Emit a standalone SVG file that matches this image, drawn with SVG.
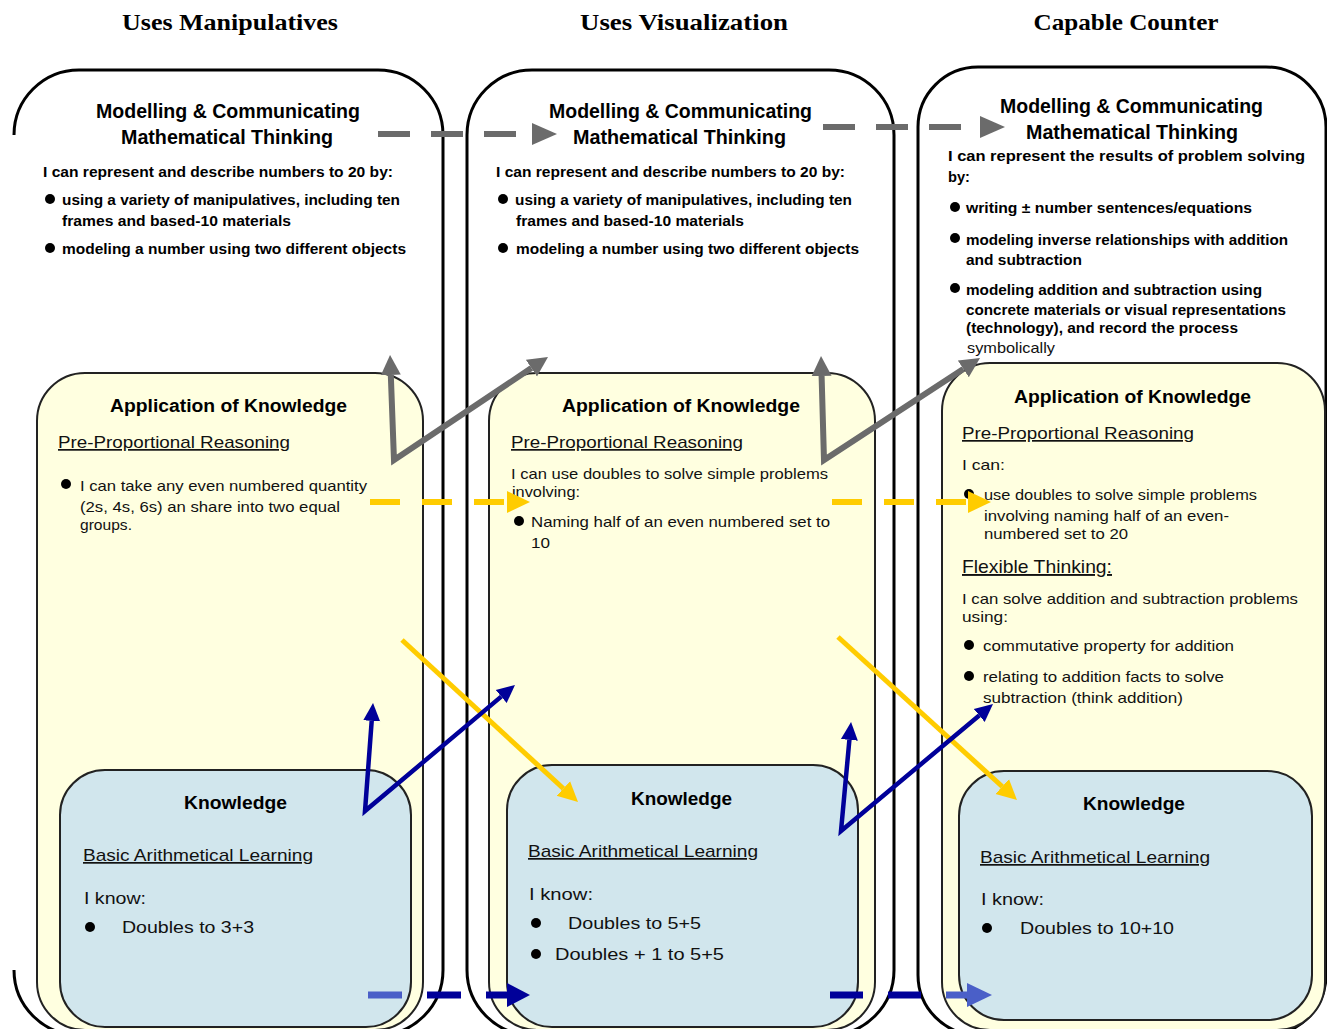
<svg xmlns="http://www.w3.org/2000/svg" width="1327" height="1029" viewBox="0 0 1327 1029">
<style>
.hdr{font-family:"Liberation Serif",serif;font-weight:bold;font-size:23px;fill:#000}
.mt{font-family:"Liberation Sans",sans-serif;font-weight:bold;font-size:20px;fill:#000}
.bt{font-family:"Liberation Sans",sans-serif;font-weight:bold;font-size:15px;fill:#000}
.nt{font-family:"Liberation Sans",sans-serif;font-size:15px;fill:#111}
.ttl{font-family:"Liberation Sans",sans-serif;font-weight:bold;font-size:18px;fill:#000}
.sub{font-family:"Liberation Sans",sans-serif;font-size:17px;fill:#111;text-decoration:underline}
.kt{font-family:"Liberation Sans",sans-serif;font-size:16px;fill:#111}
.outer{fill:none;stroke:#000;stroke-width:3}
.app{fill:#ffffe0;stroke:#222;stroke-width:2}
.know{fill:#d1e6ed;stroke:#222;stroke-width:2}
.bul{fill:#000}
.grey{fill:none;stroke:#6b6b6b;stroke-width:6}
.gdash{fill:none;stroke:#6b6b6b;stroke-width:6;stroke-dasharray:32 21}
.ydash{fill:none;stroke:#ffcc00;stroke-width:6;stroke-dasharray:30 22}
.ysol{fill:none;stroke:#ffcc00;stroke-width:5}
.nsol{fill:none;stroke:#000099;stroke-width:4.5;stroke-linejoin:miter}
.bdash{fill:none;stroke-width:7}
</style>
<defs>
<marker id="gHead" markerUnits="userSpaceOnUse" markerWidth="26" markerHeight="26" viewBox="0 -13 26 26" refX="0" refY="0" orient="auto"><path d="M0,-11 L25,0 L0,11 z" fill="#6b6b6b"/></marker>
<marker id="gHead2" markerUnits="userSpaceOnUse" markerWidth="22" markerHeight="22" viewBox="0 -11 22 22" refX="0" refY="0" orient="auto-start-reverse"><path d="M0,-10 L20,0 L0,10 z" fill="#6b6b6b"/></marker>
<marker id="yHead" markerUnits="userSpaceOnUse" markerWidth="26" markerHeight="26" viewBox="0 -13 26 26" refX="0" refY="0" orient="auto"><path d="M0,-11 L23,0 L0,11 z" fill="#ffcc00"/></marker>
<marker id="yHead2" markerUnits="userSpaceOnUse" markerWidth="22" markerHeight="22" viewBox="0 -11 22 22" refX="0" refY="0" orient="auto"><path d="M0,-10 L20,0 L0,10 z" fill="#ffcc00"/></marker>
<marker id="nHead" markerUnits="userSpaceOnUse" markerWidth="20" markerHeight="20" viewBox="0 -10 20 20" refX="0" refY="0" orient="auto-start-reverse"><path d="M0,-8.5 L18,0 L0,8.5 z" fill="#000099"/></marker>
<marker id="nHeadD" markerUnits="userSpaceOnUse" markerWidth="26" markerHeight="26" viewBox="0 -13 26 26" refX="0" refY="0" orient="auto"><path d="M0,-12 L23,0 L0,12 z" fill="#000099"/></marker>
<marker id="lHeadD" markerUnits="userSpaceOnUse" markerWidth="26" markerHeight="26" viewBox="0 -13 26 26" refX="0" refY="0" orient="auto"><path d="M0,-12 L25,0 L0,12 z" fill="#4a5fc8"/></marker>
<linearGradient id="bg1" gradientUnits="userSpaceOnUse" x1="400" y1="0" x2="425" y2="0"><stop offset="0" stop-color="#4a5fc8"/><stop offset="1" stop-color="#000099"/></linearGradient>
<linearGradient id="bg2" gradientUnits="userSpaceOnUse" x1="922" y1="0" x2="946" y2="0"><stop offset="0" stop-color="#000099"/><stop offset="1" stop-color="#4a5fc8"/></linearGradient>
</defs>
<rect width="1327" height="1029" fill="#fff"/>

<g id="headers">
<text class="hdr" x="230" y="30" text-anchor="middle" textLength="216" lengthAdjust="spacingAndGlyphs">Uses Manipulatives</text>
<text class="hdr" x="684" y="30" text-anchor="middle" textLength="208" lengthAdjust="spacingAndGlyphs">Uses Visualization</text>
<text class="hdr" x="1126" y="30" text-anchor="middle" textLength="185" lengthAdjust="spacingAndGlyphs">Capable Counter</text>
</g>

<g id="model1">
<path class="outer" d="M14,135 A65,65 0 0 1 79,70 L378,70 A65,65 0 0 1 443,135 L443,970 A65,65 0 0 1 378,1035 L79,1035 A65,65 0 0 1 14,970"/>
<text class="mt" x="96" y="118" textLength="264" lengthAdjust="spacingAndGlyphs">Modelling &amp; Communicating</text>
<text class="mt" x="121" y="144" textLength="212" lengthAdjust="spacingAndGlyphs">Mathematical Thinking</text>
<text class="bt" x="43" y="177" textLength="350" lengthAdjust="spacingAndGlyphs">I can represent and describe numbers to 20 by:</text>
<circle class="bul" cx="50" cy="199" r="5"/>
<text class="bt" x="62" y="205" textLength="338" lengthAdjust="spacingAndGlyphs">using a variety of manipulatives, including ten</text>
<text class="bt" x="62" y="226" textLength="229" lengthAdjust="spacingAndGlyphs">frames and based-10 materials</text>
<circle class="bul" cx="50" cy="248" r="5"/>
<text class="bt" x="62" y="254" textLength="344" lengthAdjust="spacingAndGlyphs">modeling a number using two different objects</text>
</g>

<g id="model2">
<rect class="outer" x="467" y="70" width="427" height="965" rx="65" ry="65"/>
<text class="mt" x="549" y="118" textLength="263" lengthAdjust="spacingAndGlyphs">Modelling &amp; Communicating</text>
<text class="mt" x="573" y="144" textLength="213" lengthAdjust="spacingAndGlyphs">Mathematical Thinking</text>
<text class="bt" x="496" y="177" textLength="349" lengthAdjust="spacingAndGlyphs">I can represent and describe numbers to 20 by:</text>
<circle class="bul" cx="503" cy="199" r="5"/>
<text class="bt" x="515" y="205" textLength="337" lengthAdjust="spacingAndGlyphs">using a variety of manipulatives, including ten</text>
<text class="bt" x="516" y="226" textLength="228" lengthAdjust="spacingAndGlyphs">frames and based-10 materials</text>
<circle class="bul" cx="503" cy="248" r="5"/>
<text class="bt" x="516" y="254" textLength="343" lengthAdjust="spacingAndGlyphs">modeling a number using two different objects</text>
</g>

<g id="model3">
<rect class="outer" x="918" y="67" width="408" height="968" rx="60" ry="60"/>
<text class="mt" x="1000" y="113" textLength="263" lengthAdjust="spacingAndGlyphs">Modelling &amp; Communicating</text>
<text class="mt" x="1026" y="139" textLength="212" lengthAdjust="spacingAndGlyphs">Mathematical Thinking</text>
<text class="bt" x="948" y="161" textLength="357" lengthAdjust="spacingAndGlyphs">I can represent the results of problem solving</text>
<text class="bt" x="948" y="182" textLength="22" lengthAdjust="spacingAndGlyphs">by:</text>
<circle class="bul" cx="955" cy="207" r="5"/>
<text class="bt" x="966" y="213" textLength="286" lengthAdjust="spacingAndGlyphs">writing ± number sentences/equations</text>
<circle class="bul" cx="955" cy="238" r="5"/>
<text class="bt" x="966" y="245" textLength="322" lengthAdjust="spacingAndGlyphs">modeling inverse relationships with addition</text>
<text class="bt" x="966" y="265" textLength="116" lengthAdjust="spacingAndGlyphs">and subtraction</text>
<circle class="bul" cx="955" cy="288" r="5"/>
<text class="bt" x="966" y="295" textLength="296" lengthAdjust="spacingAndGlyphs">modeling addition and subtraction using</text>
<text class="bt" x="966" y="315" textLength="320" lengthAdjust="spacingAndGlyphs">concrete materials or visual representations</text>
<text class="bt" x="966" y="333" textLength="272" lengthAdjust="spacingAndGlyphs">(technology), and record the process</text>
<text class="nt" x="967" y="353" textLength="88" lengthAdjust="spacingAndGlyphs">symbolically</text>
</g>

<g id="app1">
<rect class="app" x="37" y="373" width="386" height="657" rx="48" ry="48"/>
<text class="ttl" x="110" y="412" textLength="237" lengthAdjust="spacingAndGlyphs">Application of Knowledge</text>
<text class="sub" x="58" y="448" textLength="232" lengthAdjust="spacingAndGlyphs">Pre-Proportional Reasoning</text>
<circle class="bul" cx="66" cy="484" r="5"/>
<text class="nt" x="80" y="491" textLength="287" lengthAdjust="spacingAndGlyphs">I can take any even numbered quantity</text>
<text class="nt" x="80" y="512" textLength="260" lengthAdjust="spacingAndGlyphs">(2s, 4s, 6s) an share into two equal</text>
<text class="nt" x="80" y="530" textLength="52" lengthAdjust="spacingAndGlyphs">groups.</text>
</g>

<g id="app2">
<rect class="app" x="489" y="373" width="386" height="657" rx="48" ry="48"/>
<text class="ttl" x="562" y="412" textLength="238" lengthAdjust="spacingAndGlyphs">Application of Knowledge</text>
<text class="sub" x="511" y="448" textLength="232" lengthAdjust="spacingAndGlyphs">Pre-Proportional Reasoning</text>
<text class="nt" x="511" y="479" textLength="317" lengthAdjust="spacingAndGlyphs">I can use doubles to solve simple problems</text>
<text class="nt" x="512" y="497" textLength="68" lengthAdjust="spacingAndGlyphs">involving:</text>
<circle class="bul" cx="519" cy="521" r="5"/>
<text class="nt" x="531" y="527" textLength="299" lengthAdjust="spacingAndGlyphs">Naming half of an even numbered set to</text>
<text class="nt" x="531" y="548" textLength="19" lengthAdjust="spacingAndGlyphs">10</text>
</g>

<g id="app3">
<rect class="app" x="942" y="363" width="383" height="667" rx="48" ry="48"/>
<text class="ttl" x="1014" y="403" textLength="237" lengthAdjust="spacingAndGlyphs">Application of Knowledge</text>
<text class="sub" x="962" y="439" textLength="232" lengthAdjust="spacingAndGlyphs">Pre-Proportional Reasoning</text>
<text class="nt" x="962" y="470" textLength="43" lengthAdjust="spacingAndGlyphs">I can:</text>
<circle class="bul" cx="969" cy="494" r="5"/>
<text class="nt" x="984" y="500" textLength="273" lengthAdjust="spacingAndGlyphs">use doubles to solve simple problems</text>
<text class="nt" x="984" y="521" textLength="245" lengthAdjust="spacingAndGlyphs">involving naming half of an even-</text>
<text class="nt" x="984" y="539" textLength="144" lengthAdjust="spacingAndGlyphs">numbered set to 20</text>
<text class="sub" x="962" y="573" style="font-size:19px" textLength="150" lengthAdjust="spacingAndGlyphs">Flexible Thinking:</text>
<text class="nt" x="962" y="604" textLength="336" lengthAdjust="spacingAndGlyphs">I can solve addition and subtraction problems</text>
<text class="nt" x="962" y="622" textLength="46" lengthAdjust="spacingAndGlyphs">using:</text>
<circle class="bul" cx="969" cy="645" r="5"/>
<text class="nt" x="983" y="651" textLength="251" lengthAdjust="spacingAndGlyphs">commutative property for addition</text>
<circle class="bul" cx="969" cy="676" r="5"/>
<text class="nt" x="983" y="682" textLength="241" lengthAdjust="spacingAndGlyphs">relating to addition facts to solve</text>
<text class="nt" x="983" y="703" textLength="200" lengthAdjust="spacingAndGlyphs">subtraction (think addition)</text>
</g>

<g id="know1">
<rect class="know" x="60" y="770" width="351" height="257" rx="45" ry="45"/>
<text class="ttl" x="184" y="809" textLength="103" lengthAdjust="spacingAndGlyphs">Knowledge</text>
<text class="sub" x="83" y="861" textLength="230" lengthAdjust="spacingAndGlyphs">Basic Arithmetical Learning</text>
<text class="kt" x="84" y="904" textLength="62" lengthAdjust="spacingAndGlyphs">I know:</text>
<circle class="bul" cx="90" cy="927" r="5"/>
<text class="kt" x="122" y="933" textLength="132" lengthAdjust="spacingAndGlyphs">Doubles to 3+3</text>
</g>

<g id="know2">
<rect class="know" x="507" y="765" width="351" height="262" rx="45" ry="45"/>
<text class="ttl" x="631" y="805" textLength="101" lengthAdjust="spacingAndGlyphs">Knowledge</text>
<text class="sub" x="528" y="857" textLength="230" lengthAdjust="spacingAndGlyphs">Basic Arithmetical Learning</text>
<text class="kt" x="529" y="900" textLength="64" lengthAdjust="spacingAndGlyphs">I know:</text>
<circle class="bul" cx="536" cy="923" r="5"/>
<text class="kt" x="568" y="929" textLength="133" lengthAdjust="spacingAndGlyphs">Doubles to 5+5</text>
<circle class="bul" cx="536" cy="954" r="5"/>
<text class="kt" x="555" y="960" textLength="169" lengthAdjust="spacingAndGlyphs">Doubles + 1 to 5+5</text>
</g>

<g id="know3">
<rect class="know" x="959" y="771" width="353" height="249" rx="45" ry="45"/>
<text class="ttl" x="1083" y="810" textLength="102" lengthAdjust="spacingAndGlyphs">Knowledge</text>
<text class="sub" x="980" y="863" textLength="230" lengthAdjust="spacingAndGlyphs">Basic Arithmetical Learning</text>
<text class="kt" x="981" y="905" textLength="63" lengthAdjust="spacingAndGlyphs">I know:</text>
<circle class="bul" cx="987" cy="928" r="5"/>
<text class="kt" x="1020" y="934" textLength="154" lengthAdjust="spacingAndGlyphs">Doubles to 10+10</text>
</g>

<g id="connectors">
<line class="gdash" x1="378" y1="134" x2="532" y2="134" marker-end="url(#gHead)"/>
<line class="gdash" x1="823" y1="127" x2="980" y2="127" marker-end="url(#gHead)"/>
<line class="ydash" x1="370" y1="502" x2="507" y2="502" marker-end="url(#yHead)"/>
<line class="ydash" x1="832" y1="502" x2="968" y2="502" marker-end="url(#yHead)"/>
<line class="bdash" x1="368" y1="995" x2="507" y2="995" stroke="url(#bg1)" stroke-dasharray="34 25" marker-end="url(#nHeadD)"/>
<line class="bdash" x1="830" y1="995" x2="967" y2="995" stroke="url(#bg2)" stroke-dasharray="33 25" marker-end="url(#lHeadD)"/>
<polyline class="grey" points="390.8,375 394,460 531.4,368.1" marker-start="url(#gHead2)" marker-end="url(#gHead2)"/>
<polyline class="grey" points="821.6,376 824,460 963.3,368.9" marker-start="url(#gHead2)" marker-end="url(#gHead2)"/>
<line class="ysol" x1="402" y1="640" x2="563.3" y2="788.5" marker-end="url(#yHead2)"/>
<line class="ysol" x1="838" y1="637" x2="1002.2" y2="786.5" marker-end="url(#yHead2)"/>
<polyline class="nsol" points="371.7,720.9 365,811 501.2,696.6" marker-start="url(#nHead)" marker-end="url(#nHead)"/>
<polyline class="nsol" points="849.4,739.9 841,831 979.2,715.5" marker-start="url(#nHead)" marker-end="url(#nHead)"/>
</g>
</svg>
